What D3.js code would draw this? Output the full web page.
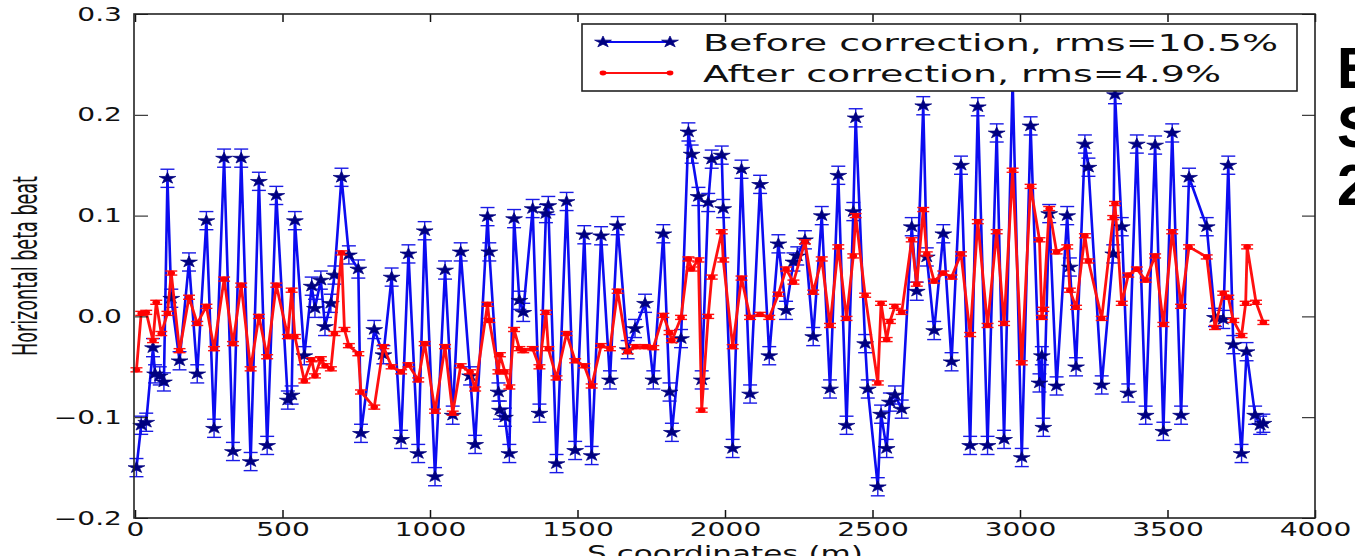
<!DOCTYPE html>
<html><head><meta charset="utf-8">
<script src="https://cdn.jsdelivr.net/npm/d3@7"></script>
<style>body{margin:0;background:#fff}svg{display:block}</style>
</head><body>
<svg id="c" width="1355" height="556"></svg>
<script>
// ---- data ----
const sBefore = [5,21,38,61,68,84,98,110,123,151,183,211,242,268,302,332,360,392,420,448,
479,518,531,542,574,599,610,630,644,664,676,700,725,757,766,811,842,870,902,927,960,982,
1017,1051,1077,1104,1136,1153,1195,1201,1232,1237,1254,1269,1285,1303,1316,1348,1371,1393,1401,1429,1463,
1492,1523,1548,1580,1610,1636,1670,1695,1729,1757,1791,1812,1820,1851,1876,1887,1910,1921,1943,1955,
1989,1994,2026,2056,2085,2119,2150,2181,2207,2232,2245,2271,2299,2328,2356,2384,2412,2435,2443,
2475,2484,2518,2529,2548,2559,2576,2599,2633,2650,2672,2684,2709,2740,2768,2800,2831,2857,2890,2921,2946,
2975,3006,3036,3066,3074,3079,3099,3124,3160,3169,3190,3220,3232,3277,3316,3322,3345,3367,3396,3426,
3458,3486,3516,3546,3573,3633,3661,3689,3706,3723,3751,3768,3797,3814,3825];
const before = [-0.150,-0.108,-0.105,-0.031,-0.057,-0.059,-0.065,0.137,0.018,-0.044,0.054,-0.057,0.095,-0.111,0.157,-0.134,0.157,-0.144,0.134,-0.128,
0.120,-0.083,-0.078,0.095,-0.039,0.030,0.008,0.036,-0.010,0.013,0.041,0.138,0.061,0.047,-0.116,-0.013,-0.038,0.039,-0.122,0.062,-0.136,0.085,
-0.159,0.046,-0.098,0.064,-0.059,-0.127,0.099,0.064,-0.075,-0.093,-0.100,-0.136,0.097,0.016,0.004,0.107,-0.096,0.102,0.110,-0.146,0.114,
-0.133,0.081,-0.138,0.080,-0.063,0.090,-0.033,-0.012,0.013,-0.063,0.082,-0.075,-0.115,-0.022,0.183,0.161,0.119,-0.063,0.113,0.156,
0.160,0.107,-0.131,0.146,-0.077,0.131,-0.039,0.072,0.006,0.054,0.060,0.076,-0.020,0.100,-0.072,0.140,-0.108,0.104,0.197,
-0.027,-0.072,-0.169,-0.097,-0.131,-0.085,-0.078,-0.092,0.089,0.025,0.209,0.059,-0.014,0.082,-0.045,0.150,-0.128,0.208,-0.128,0.182,-0.122,
0.235,-0.140,0.189,-0.066,-0.039,-0.110,0.102,-0.069,0.100,0.049,-0.050,0.171,0.148,-0.068,0.062,0.220,0.089,-0.076,0.171,-0.098,
0.170,-0.114,0.182,-0.098,0.138,0.089,-0.001,-0.003,0.150,-0.028,-0.136,-0.035,-0.098,-0.108,-0.106];

const sAfter = [5,21,38,61,72,89,110,123,151,183,211,242,268,302,332,360,392,420,448,
479,518,531,542,574,599,610,630,644,664,676,700,710,725,757,766,811,842,870,902,927,960,982,
1017,1051,1077,1104,1136,1153,1195,1201,1232,1237,1254,1269,1285,1303,1316,1348,1371,1393,1401,1429,1463,
1492,1523,1548,1580,1610,1636,1670,1695,1729,1757,1791,1812,1820,1851,1876,1887,1910,1921,1943,1955,
1989,1994,2026,2056,2085,2119,2150,2181,2207,2232,2271,2299,2328,2356,2384,2412,2435,2443,
2475,2518,2529,2548,2559,2576,2599,2633,2650,2672,2684,2709,2740,2768,2800,2831,2857,2890,2921,2946,
2975,3006,3036,3066,3074,3079,3099,3124,3160,3169,3190,3220,3232,3277,3316,3322,3345,3367,3396,3426,
3458,3486,3516,3546,3573,3633,3661,3689,3706,3723,3751,3765,3770,3800,3825];
const after = [-0.053,0.003,0.004,-0.024,0.014,-0.017,0.003,0.043,-0.034,0.019,-0.007,0.010,-0.032,0.037,-0.027,0.031,-0.052,0.000,-0.040,
0.031,-0.020,0.026,-0.020,-0.064,-0.043,-0.059,-0.042,-0.049,-0.052,-0.017,0.063,-0.013,-0.029,-0.037,-0.075,-0.090,-0.030,-0.050,-0.055,-0.048,-0.063,-0.027,
-0.094,-0.030,-0.096,-0.049,-0.055,-0.072,0.012,-0.004,-0.055,-0.038,-0.055,-0.070,-0.013,-0.032,-0.034,-0.032,-0.050,0.004,-0.032,-0.061,-0.017,
-0.044,-0.049,-0.069,-0.029,-0.032,0.025,-0.035,-0.030,-0.030,-0.031,0.001,-0.016,-0.024,-0.001,0.057,0.047,0.056,-0.093,0.000,0.039,
0.084,0.056,-0.030,0.038,-0.001,0.002,-0.001,0.022,0.047,0.034,0.074,0.024,0.057,-0.009,0.069,-0.002,0.060,0.100,
0.021,-0.066,0.013,-0.023,-0.005,0.010,0.004,0.076,0.032,0.106,0.062,0.035,0.043,0.039,0.062,-0.018,0.094,-0.009,0.084,-0.007,
0.145,-0.046,0.129,0.076,-0.001,0.007,0.107,0.064,0.069,0.026,0.009,0.080,0.055,-0.002,0.098,0.112,0.013,0.041,0.047,0.036,
0.060,-0.008,0.084,0.010,0.069,0.059,-0.011,0.023,0.019,-0.004,-0.019,0.013,0.069,0.014,-0.006];

const errBefore = 0.009;
const errAfter = 0.002;
const xTicks = [0,500,1000,1500,2000,2500,3000,3500,4000];
const yTicks = [-0.2,-0.1,0.0,0.1,0.2,0.3];
const yTickLabels = ["\u22120.2","\u22120.1","0.0","0.1","0.2","0.3"];
const legendLabels = ["Before correction, rms=10.5%","After correction, rms=4.9%"];
const xLabel = "S coordinates (m)";
const yLabel = "Horizontal beta beat";
const sideText = ["E","S","2"];

// ---- drawing ----
const SX = 1.48; // horizontal stretch of the original picture
const svg = d3.select("#c");
const x = d3.scaleLinear().domain([0,4000]).range([135,1315]);
const y = d3.scaleLinear().domain([-0.2,0.3]).range([518,14]);

const blue = sBefore.map((s,i)=>({s, v: before[i]}));
const red = sAfter.map((s,i)=>({s, v: after[i]}));
const line = d3.line().x(d=>x(d.s)).y(d=>y(d.v));

function errorbars(data, err, color, cap){
  const g = svg.append("g").attr("stroke", color).attr("stroke-width",1.4);
  g.selectAll("line.v").data(data).join("line")
    .attr("x1",d=>x(d.s)).attr("x2",d=>x(d.s))
    .attr("y1",d=>y(d.v-err)).attr("y2",d=>y(d.v+err));
  g.selectAll("line.t").data(data).join("line")
    .attr("x1",d=>x(d.s)-cap).attr("x2",d=>x(d.s)+cap)
    .attr("y1",d=>y(d.v+err)).attr("y2",d=>y(d.v+err));
  g.selectAll("line.b").data(data).join("line")
    .attr("x1",d=>x(d.s)-cap).attr("x2",d=>x(d.s)+cap)
    .attr("y1",d=>y(d.v-err)).attr("y2",d=>y(d.v-err));
}

// blue series
errorbars(blue, errBefore, "#1a1ae6", 7);
svg.append("path").datum(blue).attr("d", line)
  .attr("fill","none").attr("stroke","#0c0cf0").attr("stroke-width",2.6).attr("stroke-linejoin","round");
const star = d3.symbol().type(d3.symbolStar).size(40);
svg.append("g").selectAll("path").data(blue).join("path")
  .attr("d", star)
  .attr("transform", d=>`translate(${x(d.s)},${y(d.v)}) scale(${SX},1)`)
  .attr("fill","#000080").attr("stroke","#000080").attr("stroke-width",0.6);

// red series
errorbars(red, errAfter, "#ff1010", 6);
svg.append("path").datum(red).attr("d", line)
  .attr("fill","none").attr("stroke","#ff1010").attr("stroke-width",2.8).attr("stroke-linejoin","round");
svg.append("g").selectAll("ellipse").data(red).join("ellipse")
  .attr("cx",d=>x(d.s)).attr("cy",d=>y(d.v)).attr("rx",3.8).attr("ry",2.6)
  .attr("fill","#ff0000");

// axes
function styleAxis(g){
  g.select(".domain").remove();
  g.selectAll(".tick line").attr("stroke","#111");
  g.attr("font-family","DejaVu Sans").attr("font-size",19);
  g.selectAll("text").attr("fill","#111");
}
svg.append("g").attr("transform","translate(0,518)")
  .call(d3.axisBottom(x).tickValues(xTicks).tickSizeInner(-8).tickSizeOuter(0).tickPadding(5).tickFormat(d3.format("d")))
  .call(styleAxis)
  .call(g=>g.selectAll(".tick line").attr("stroke-width",1.5))
  .call(g=>g.selectAll("text").attr("transform",`scale(${SX},1)`));
svg.append("g").attr("transform","translate(0,14)")
  .call(d3.axisTop(x).tickValues(xTicks).tickSizeInner(-8).tickSizeOuter(0).tickFormat(""))
  .call(styleAxis)
  .call(g=>g.selectAll(".tick line").attr("stroke-width",1.5));
svg.append("g").attr("transform","translate(135,0)")
  .call(d3.axisLeft(y).tickValues(yTicks).tickSizeInner(-13).tickSizeOuter(0).tickPadding(8.8).tickFormat((d,i)=>yTickLabels[i]))
  .call(styleAxis)
  .call(g=>g.selectAll("text").attr("transform",`scale(${SX},1)`));
svg.append("g").attr("transform","translate(1315,0)")
  .call(d3.axisRight(y).tickValues(yTicks).tickSizeInner(-13).tickSizeOuter(0).tickFormat(""))
  .call(styleAxis);

// frame
svg.append("rect").attr("x",134).attr("y",14).attr("width",1181).attr("height",504)
  .attr("fill","none").attr("stroke","#222").attr("stroke-width",1.6);

// axis labels
svg.append("text").attr("transform",`translate(725,561) scale(${SX},1)`)
  .attr("text-anchor","middle").attr("font-family","DejaVu Sans").attr("font-size",21)
  .attr("fill","#111").text(xLabel);
svg.append("text").attr("transform","translate(37,266) rotate(-90)")
  .attr("text-anchor","middle").attr("font-family","Liberation Sans Narrow, DejaVu Sans Condensed, sans-serif")
  .attr("font-size",33).attr("textLength",180).attr("lengthAdjust","spacingAndGlyphs")
  .attr("fill","#111").text(yLabel);

// legend
const lg = svg.append("g");
lg.append("rect").attr("x",582).attr("y",24).attr("width",715).attr("height",67)
  .attr("fill","#fff").attr("stroke","#222").attr("stroke-width",1.6);
const rows = [42,73];
lg.append("line").attr("x1",603).attr("x2",670).attr("y1",rows[0]).attr("y2",rows[0])
  .attr("stroke","#0c0cf0").attr("stroke-width",1.8);
lg.selectAll("path.ls").data([603,670]).join("path")
  .attr("d",star).attr("transform",d=>`translate(${d},${rows[0]}) scale(${SX},1)`)
  .attr("fill","#000080").attr("stroke","#000080").attr("stroke-width",0.6);
lg.append("line").attr("x1",603).attr("x2",670).attr("y1",rows[1]).attr("y2",rows[1])
  .attr("stroke","#ff1010").attr("stroke-width",1.8);
lg.selectAll("ellipse").data([603,670]).join("ellipse")
  .attr("cx",d=>d).attr("cy",rows[1]).attr("rx",3.4).attr("ry",2.4).attr("fill","#ff0000");
const lens = [575,518];
lg.selectAll("text").data(legendLabels).join("text")
  .attr("x",703).attr("y",(d,i)=>rows[i]+8.5)
  .attr("font-family","DejaVu Sans").attr("font-size",23)
  .attr("textLength",(d,i)=>lens[i]).attr("lengthAdjust","spacingAndGlyphs")
  .attr("fill","#111").text(d=>d);

// cut-off side text
svg.selectAll("text.side").data(sideText).join("text").attr("class","side")
  .attr("x",1337).attr("y",(d,i)=>[88,147,205][i])
  .attr("font-family","Liberation Sans, Arial, sans-serif").attr("font-weight","bold")
  .attr("font-size",57).attr("fill","#000").text(d=>d);
</script>
</body></html>
